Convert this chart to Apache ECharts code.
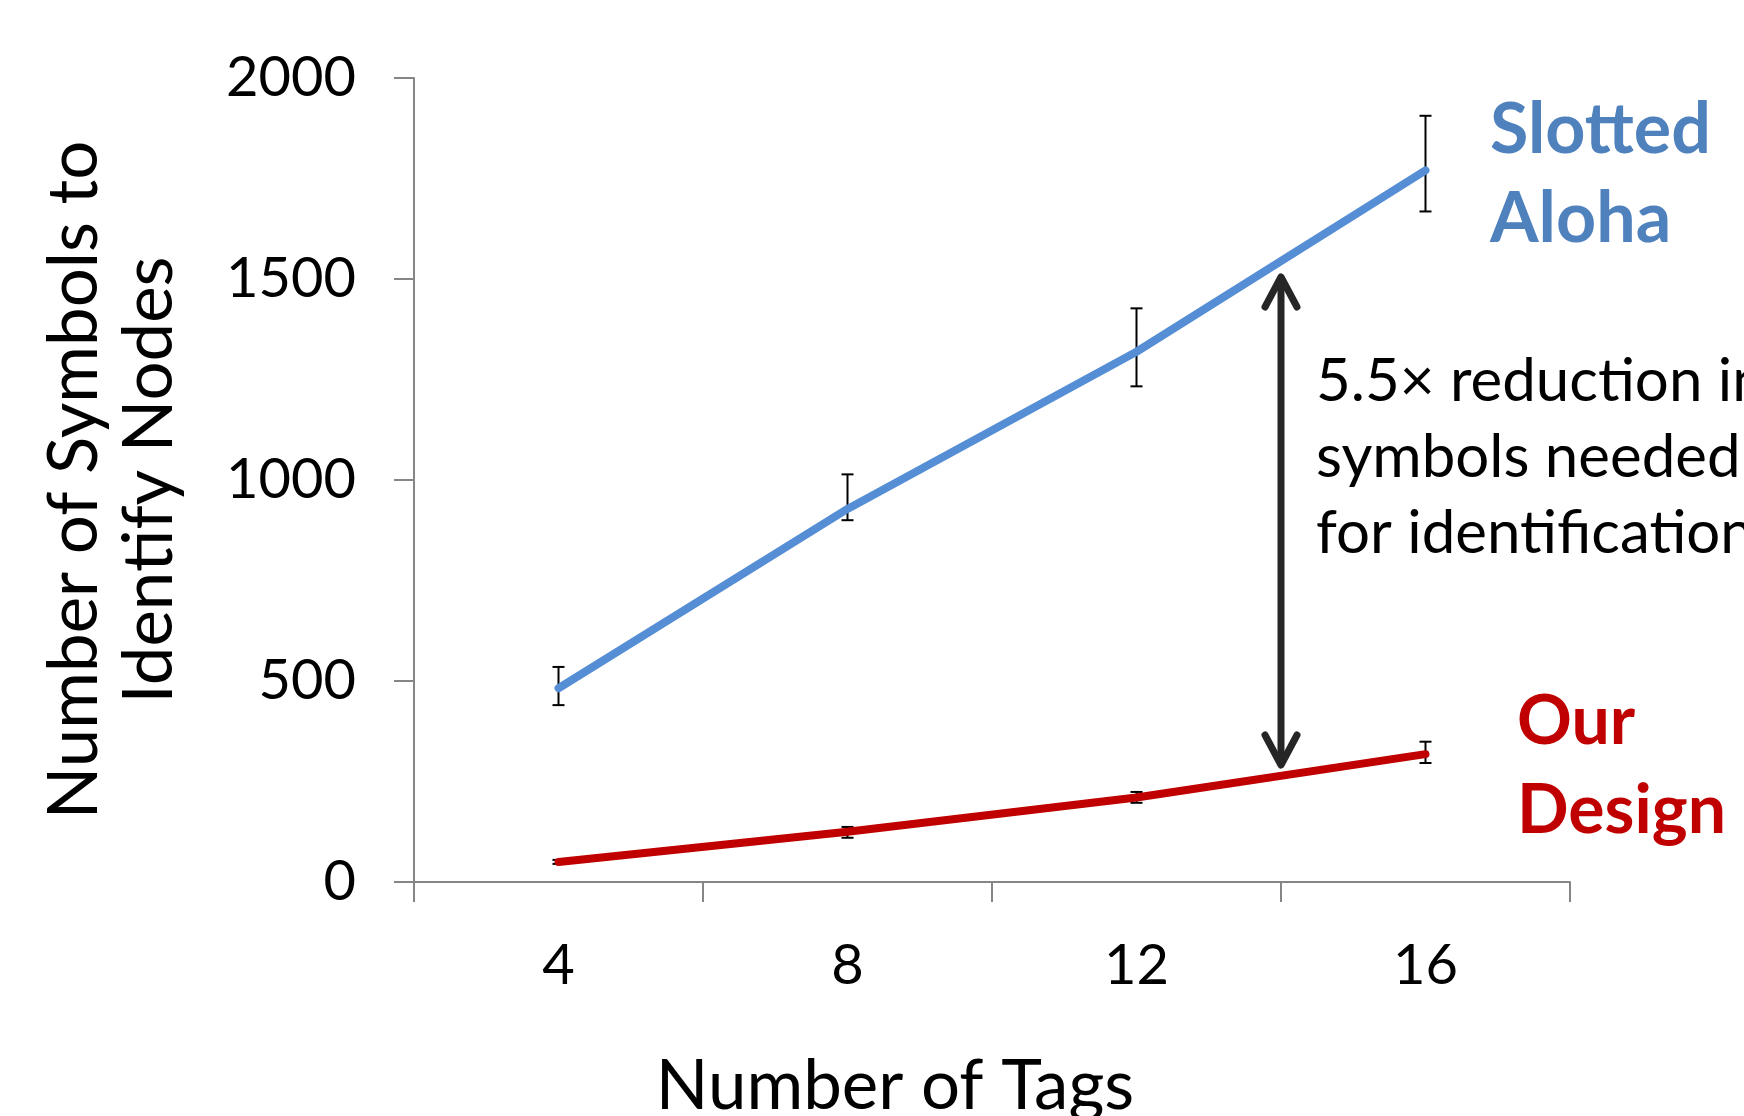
<!DOCTYPE html>
<html>
<head>
<meta charset="UTF-8">
<title>Symbols to identify nodes</title>
<script src="https://cdn.jsdelivr.net/npm/echarts@6/dist/echarts.min.js"></script>
<style>
  html, body { margin: 0; padding: 0; background: #fff; }
  #chart { width: 1744px; height: 1116px; }
</style>
</head>
<body>
<div id="chart"></div>
<script>
// data
var tags = ['4', '8', '12', '16'];
var alohaMean = [482, 928, 1319, 1770];
var alohaLow  = [440, 900, 1233, 1668];
var alohaHigh = [535, 1014, 1427, 1906];
var oursMean = [50, 125, 210, 318];
var oursLow  = [45, 110, 197, 296];
var oursHigh = [55, 137, 224, 349];
var yTicks = [0, 500, 1000, 1500, 2000];
// arrow between the curves, placed on the boundary between 12 and 16
var arrowSpan = [[3, 291, 1505]];

var FONT = 'Lato';

function errData(low, high) {
  var out = [];
  for (var i = 0; i < low.length; i++) out.push([i, low[i], high[i]]);
  return out;
}

function renderErr(params, api) {
  var x = api.value(0);
  var lo = api.coord([x, api.value(1)]);
  var hi = api.coord([x, api.value(2)]);
  var w = 6;
  var st = { stroke: '#000', lineWidth: 2 };
  return {
    type: 'group',
    children: [
      { type: 'line', shape: { x1: lo[0], y1: lo[1], x2: hi[0], y2: hi[1] }, style: st },
      { type: 'line', shape: { x1: lo[0] - w, y1: lo[1], x2: lo[0] + w, y2: lo[1] }, style: st },
      { type: 'line', shape: { x1: hi[0] - w, y1: hi[1], x2: hi[0] + w, y2: hi[1] }, style: st }
    ]
  };
}

function renderArrow(params, api) {
  var x = api.value(0);
  var bot = api.coord([x, api.value(1)]);
  var top = api.coord([x, api.value(2)]);
  var hw = 16, hh = 30;
  var st = { stroke: '#262626', lineWidth: 7, lineCap: 'round', lineJoin: 'round', fill: null };
  return {
    type: 'group',
    children: [
      { type: 'line', shape: { x1: top[0], y1: top[1] + 3, x2: bot[0], y2: bot[1] - 3 }, style: st },
      { type: 'polyline', shape: { points: [[top[0] - hw, top[1] + hh], [top[0], top[1]], [top[0] + hw, top[1] + hh]] }, style: st },
      { type: 'polyline', shape: { points: [[bot[0] - hw, bot[1] - hh], [bot[0], bot[1]], [bot[0] + hw, bot[1] - hh]] }, style: st }
    ]
  };
}

var axisGray = '#868686';

var option = {
  animation: false,
  backgroundColor: '#fff',
  grid: { left: 414, top: 78, width: 1156, height: 804, containLabel: false, outerBoundsMode: 'none' },
  xAxis: [{
    type: 'category',
    data: tags,
    boundaryGap: true,
    axisLine: { lineStyle: { color: axisGray, width: 2 } },
    axisTick: { show: true, length: 20, lineStyle: { color: axisGray, width: 2 } },
    axisLabel: { color: '#000', fontFamily: FONT, fontSize: 56, margin: 56 },
    splitLine: { show: false },
    name: 'Number of Tags',
    nameLocation: 'middle',
    nameGap: 170,
    // title sits left of the axis centre in the original
    nameTextStyle: { color: '#000', fontFamily: FONT, fontSize: 69, padding: [0, 194, 0, 0] }
  }, {
    type: 'value',
    min: 0, max: 4,
    show: false
  }],
  yAxis: {
    type: 'value',
    min: yTicks[0],
    max: yTicks[yTicks.length - 1],
    interval: 500,
    axisLine: { show: true, lineStyle: { color: axisGray, width: 2 } },
    axisTick: { show: true, length: 20, lineStyle: { color: axisGray, width: 2 } },
    axisLabel: { color: '#000', fontFamily: FONT, fontSize: 56, margin: 58, formatter: function (v) { return String(v); } },
    splitLine: { show: false },
    name: 'Number of Symbols to\nIdentify Nodes',
    nameLocation: 'middle',
    nameRotate: 90,
    nameGap: 227,
    nameTextStyle: { color: '#000', fontFamily: FONT, fontSize: 69, lineHeight: 75 }
  },
  series: [
    {
      type: 'custom', name: 'aloha err', xAxisIndex: 0,
      renderItem: renderErr, data: errData(alohaLow, alohaHigh), z: 1, silent: true
    },
    {
      type: 'custom', name: 'ours err', xAxisIndex: 0,
      renderItem: renderErr, data: errData(oursLow, oursHigh), z: 1, silent: true
    },
    {
      type: 'line', name: 'Slotted Aloha', data: alohaMean, showSymbol: false, z: 3,
      lineStyle: { color: '#558ED5', width: 8, cap: 'round' }, itemStyle: { color: '#558ED5' }
    },
    {
      type: 'line', name: 'Our Design', data: oursMean, showSymbol: false, z: 3,
      lineStyle: { color: '#C00000', width: 8, cap: 'round' }, itemStyle: { color: '#C00000' }
    },
    {
      type: 'custom', name: 'gap arrow', xAxisIndex: 1,
      renderItem: renderArrow, data: arrowSpan, z: 4, silent: true
    }
  ],
  graphic: [
    {
      type: 'text', left: 1490, top: 86,
      style: { text: 'Slotted\nAloha', fill: '#4F81BD', font: 'bold 70px ' + FONT, lineHeight: 89 }
    },
    {
      type: 'text', left: 1517, top: 678,
      style: { text: 'Our\nDesign', fill: '#C00000', font: 'bold 68px ' + FONT, lineHeight: 89 }
    },
    {
      type: 'text', left: 1316, top: 344,
      style: { text: '5.5\u00d7 reduction in\nsymbols needed\nfor identification', fill: '#000', font: '60px ' + FONT, lineHeight: 76 }
    }
  ]
};

var chart = echarts.init(document.getElementById('chart'));
chart.setOption(option);
</script>
</body>
</html>
